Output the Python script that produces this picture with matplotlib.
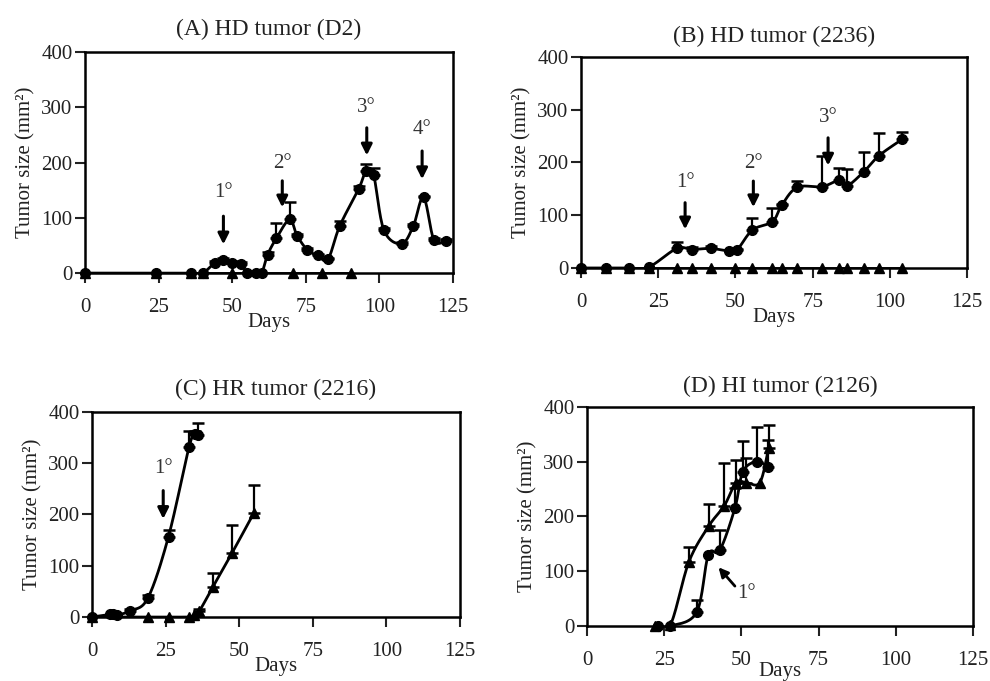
import numpy as np
import matplotlib
matplotlib.use("Agg")
import matplotlib.pyplot as plt

plt.rcParams["font.family"] = ["Liberation Serif", "DejaVu Serif"]

# (A) HD tumor (D2)
a_days = [0, 24, 36, 40, 44, 47, 50, 53, 55, 58, 60, 62, 65, 69.5, 72, 75.5,
          79, 82.5, 86.5, 93, 95.5, 98, 101.5, 107.5, 111.5, 115, 118.5, 122.5]
a_vals = [0, 0, 0, 0, 18, 23, 18, 17, 0, 0, 0, 33, 63, 97, 68, 42,
          32, 25, 85, 153, 185, 178, 78, 53, 85, 137, 60, 58]
a_errs = [0, 0, 0, 0, 3, 5, 3, 3, 0, 0, 0, 5, 27, 32, 3, 3,
          3, 3, 10, 5, 13, 12, 3, 3, 3, 3, 3, 3]
a_tri_days = [0, 24, 36, 40, 50, 70.5, 80.5, 90.5]
a_tri_vals = [0, 0, 0, 0, 0, 0, 0, 0]
a_arrows = [("1°", 47, 47, 108, 145), ("2°", 67, 114, 172, 199),
            ("3°", 95.7, 208, 268, 300), ("4°", 114.5, 165, 226, 259)]

# (B) HD tumor (2236)
b_days = [0, 8, 15.5, 22, 31, 36, 42, 48, 50.5, 55.5, 62, 65, 70, 78,
          83.5, 86, 91.5, 96.5, 104]
b_vals = [0, 0, 0, 2, 37, 35, 37, 32, 34, 72, 88, 119, 153, 154,
          166, 155, 182, 213, 244]
b_errs = [0, 0, 0, 0, 13, 5, 5, 0, 2, 23, 25, 3, 12, 58,
          23, 33, 37, 43, 13]
b_tri_days = [0, 8, 15.5, 22, 31, 36, 42, 50, 55.5, 62, 65, 70, 78,
              83.5, 86, 91.5, 96.5, 104]
b_tri_vals = [0] * 18
b_arrows = [("1°", 33.7, 68, 129, 163), ("2°", 55.8, 110, 170, 199),
            ("3°", 80, 189, 252, 286)]

# (C) HR tumor (2216)
c_days = [0, 6, 7, 8.5, 13, 19, 26, 33, 35, 36]
c_vals = [0, 5, 5, 4, 12, 37, 157, 332, 357, 355]
c_errs = [0, 0, 0, 0, 3, 5, 12, 30, 5, 24]
c_tri_days = [0, 19, 26, 33, 34.5, 36.5, 41, 47.5, 55]
c_tri_vals = [0, 0, 0, 0, 3, 12, 58, 124, 203]
c_tri_errs = [0, 0, 0, 0, 0, 3, 27, 56, 54]
c_arrows = [("1°", 24.2, 186, 252, 290)]

# (D) HI tumor (2126)
d_days = [23, 27, 35.5, 39.3, 43, 47.9, 50.5, 55, 58.7]
d_vals = [0, 0, 25, 130, 138, 215, 282, 300, 290]
d_errs = [0, 0, 22, 0, 37, 37, 55, 64, 50]
d_tri_days = [22, 27, 33, 39.5, 44.5, 48.3, 51.5, 56, 58.8]
d_tri_vals = [0, 2, 117, 183, 220, 262, 262, 262, 325]
d_tri_errs = [0, 0, 28, 40, 78, 42, 44, 0, 42]

x_ticks = [0, 25, 50, 75, 100, 125]
y_ticks = [0, 100, 200, 300, 400]


def smooth(x, y, n=16):
    """catmull-rom curve through the points, like excel smoothed lines"""
    x = np.asarray(x, float)
    y = np.asarray(y, float)
    px = np.concatenate([[x[0]], x, [x[-1]]])
    py = np.concatenate([[y[0]], y, [y[-1]]])
    t = np.linspace(0, 1, n, endpoint=False)
    xs, ys = [], []
    for i in range(1, len(px) - 2):
        for p, out in ((px, xs), (py, ys)):
            p0, p1, p2, p3 = p[i - 1], p[i], p[i + 1], p[i + 2]
            out.extend(0.5 * (2 * p1 + (-p0 + p2) * t
                              + (2 * p0 - 5 * p1 + 4 * p2 - p3) * t ** 2
                              + (-p0 + 3 * p1 - 3 * p2 + p3) * t ** 3))
    xs.append(x[-1])
    ys.append(y[-1])
    return xs, ys


def series(ax, days, vals, errs, marker):
    xs, ys = smooth(days, vals)
    ax.plot(xs, ys, color="k", lw=2, zorder=3)
    ax.plot(days, vals, ls="none", marker=marker, ms=7, color="k",
            clip_on=False, zorder=4)
    if errs is not None:
        d = [a for a, e in zip(days, errs) if e > 0]
        v = [a for a, e in zip(vals, errs) if e > 0]
        e = [e for e in errs if e > 0]
        ax.errorbar(d, v, yerr=[[0] * len(e), e], fmt="none", ecolor="k",
                    elinewidth=1.6, capsize=4, capthick=1.8, zorder=3)


def setup(ax, title, title_y, days_pad=-3):
    ax.set_xlim(0, 125)
    ax.set_ylim(0, 400)
    ax.set_xticks(x_ticks)
    ax.set_yticks(y_ticks)
    for s in ax.spines.values():
        s.set_linewidth(1.8)
    ax.tick_params(direction="out", length=7, width=1.5, labelsize=15,
                   colors="#222")
    ax.tick_params(axis="x", pad=11)
    ax.tick_params(axis="y", pad=2)
    ax.set_xlabel("Days", fontsize=15, labelpad=days_pad, color="#222")
    ax.set_ylabel("Tumor size (mm²)", fontsize=15, labelpad=4, color="#222")
    ax.set_title(title, fontsize=17, y=title_y, color="#222")


def arrows(ax, items):
    for label, day, tip, tail, ty in items:
        ax.annotate("", xy=(day, tip), xytext=(day, tail),
                    arrowprops=dict(arrowstyle="-|>", color="k", lw=2.2,
                                    mutation_scale=16))
        ax.text(day, ty, label, ha="center", va="center", fontsize=15,
                color="#333")


fig = plt.figure(figsize=(9.9, 6.81), dpi=100)
ax_a = fig.add_axes([0.0859, 0.599, 0.3717, 0.3245])
ax_b = fig.add_axes([0.5869, 0.6065, 0.3899, 0.3098])
ax_c = fig.add_axes([0.0929, 0.094, 0.3717, 0.301])
ax_d = fig.add_axes([0.5929, 0.0808, 0.3899, 0.3216])

setup(ax_a, "(A) HD tumor (D2)", 1.04)
series(ax_a, a_tri_days, a_tri_vals, None, "^")
series(ax_a, a_days, a_vals, a_errs, "o")
arrows(ax_a, a_arrows)

setup(ax_b, "(B) HD tumor (2236)", 1.03)
series(ax_b, b_tri_days, b_tri_vals, None, "^")
series(ax_b, b_days, b_vals, b_errs, "o")
arrows(ax_b, b_arrows)

setup(ax_c, "(C) HR tumor (2216)", 1.04)
series(ax_c, c_tri_days, c_tri_vals, c_tri_errs, "^")
series(ax_c, c_days, c_vals, c_errs, "o")
arrows(ax_c, c_arrows)

setup(ax_d, "(D) HI tumor (2126)", 1.03, days_pad=-6)
series(ax_d, d_tri_days, d_tri_vals, d_tri_errs, "^")
series(ax_d, d_days, d_vals, d_errs, "o")
ax_d.annotate("", xy=(42, 111), xytext=(48.5, 69),
              arrowprops=dict(arrowstyle="-|>", color="k", lw=2,
                              mutation_scale=14))
ax_d.text(51.7, 60, "1°", ha="center", va="center", fontsize=15, color="#333")

fig.savefig("out.png", dpi=100)
